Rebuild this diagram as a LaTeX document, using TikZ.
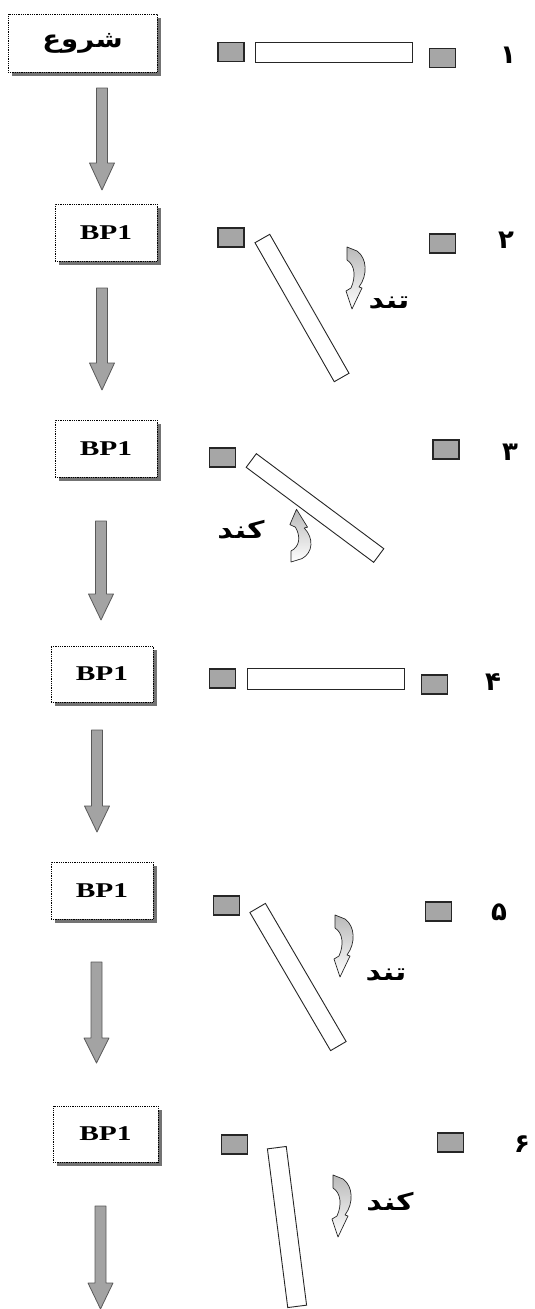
\documentclass[tikz,border=0pt]{standalone}
\usepackage{fontspec}
\usepackage{graphicx}
\setmainfont{Liberation Serif}
\newfontfamily\fa[Script=Arabic]{DejaVu Sans}
\TeXXeTstate=1
\usetikzlibrary{shadows}
\tikzset{
  stepbox/.style={draw=black, dash pattern=on 0.9pt off 0.9pt, line width=0.9pt, fill=white,
    inner sep=0pt, drop shadow={shadow xshift=4pt, shadow yshift=-4pt, fill=black!55, opacity=1}},
  fatext/.style={font=\fa\bfseries\fontsize{24}{28}\selectfont, inner sep=0pt},
  numtext/.style={font=\fa\bfseries\fontsize{26}{30}\selectfont, inner sep=0pt},
  pad/.style={draw=black!85, line width=1.1pt, fill=gray!70, minimum width=26pt, minimum height=19pt, inner sep=0pt},
  bar/.style={draw=black!85, line width=0.9pt, fill=white, inner sep=0pt},
  barrow/.style={draw=black!65, line width=0.8pt, fill=gray!72, line join=round},
  curv/.style={draw=black!85, line width=0.7pt, top color=gray!55, bottom color=white, line join=round}
}
\newcommand{\bptxt}{\scalebox{1.4}[1]{\bfseries\fontsize{21}{24}\selectfont BP1}}
\newcommand{\blockarrow}[4]{%
  \draw[barrow] (#1-5.5,#2) -- (#1+5.5,#2) -- (#1+5.5,#3) -- (#1+12.5,#3) -- (#1,#4)
    -- (#1-12.5,#3) -- (#1-5.5,#3) -- cycle;}
\newcommand{\curvedarrow}[2]{%
  \begin{scope}[shift={#1},#2]
    \draw[curv] (0,0) -- (10,4) .. controls (20,11) and (21,28) .. (12,40) -- (15,41) -- (5,62)
      -- (-1,44) -- (4,41) .. controls (9,30) and (8,18) .. (0,13) -- cycle;
  \end{scope}}
\begin{document}
\begin{tikzpicture}[x=1pt,y=-1pt]
\useasboundingbox (0,0) rectangle (535,1309);

% flow boxes
\node[stepbox, minimum width=149pt, minimum height=58pt] (b0) at (82.5,43)
  {\scalebox{1.15}[1]{\fa\bfseries\fontsize{24}{28}\selectfont\beginR شروع\endR}};
\node[stepbox, minimum width=102pt, minimum height=57pt] (b1) at (106,232.5) {\bptxt};
\node[stepbox, minimum width=102pt, minimum height=57pt] (b2) at (106,448.5) {\bptxt};
\node[stepbox, minimum width=102pt, minimum height=56pt] (b3) at (102,674) {\bptxt};
\node[stepbox, minimum width=102pt, minimum height=57pt] (b4) at (102,890.5) {\bptxt};
\node[stepbox, minimum width=105pt, minimum height=56pt] (b5) at (105.5,1134) {\bptxt};

% block arrows
\blockarrow{102}{88}{163}{190}
\blockarrow{102}{288}{363}{390}
\blockarrow{101}{521}{594}{620}
\blockarrow{97}{730}{806}{832}
\blockarrow{96.5}{962}{1038}{1063}
\blockarrow{100.5}{1206}{1283}{1309}

% row 1
\node[pad] (l1) at (231,52) {};
\node[bar, minimum width=157pt, minimum height=20pt] (r1) at (333.5,52) {};
\node[pad] (p1) at (442.5,58) {};
\node[numtext] (n1) at (508,55) {۱};

% row 2
\node[pad] (l2) at (231,237.5) {};
\node[pad] (p2) at (442.5,243.5) {};
\node[bar, minimum width=160pt, minimum height=17pt, rotate=-60.3] (r2) at (302,308) {};
\node[numtext] (n2) at (506,240) {۲};
\curvedarrow{(347,247)}{}
\node[fatext] (t2) at (389,303) {\scalebox{1.25}[1]{\beginR تند\endR}};

% row 3
\node[pad] (l3) at (222.5,457.5) {};
\node[pad] (p3) at (446,449.5) {};
\node[bar, minimum width=159pt, minimum height=17pt, rotate=-36.7] (r3) at (315,508) {};
\node[numtext] (n3) at (510,452) {۳};
\curvedarrow{(291,562)}{xscale=1.1,yscale=-0.85}
\node[fatext] (t3) at (241,530) {\scalebox{1.25}[1]{\beginR کند\endR}};

% row 4
\node[pad] (l4) at (222.5,678.5) {};
\node[bar, minimum width=157pt, minimum height=21pt] (r4) at (325.5,678.5) {};
\node[pad] (p4) at (434.5,684.5) {};
\node[numtext] (n4) at (493,682) {۴};

% row 5
\node[pad] (l5) at (226.5,905.5) {};
\node[pad] (p5) at (438.5,911.5) {};
\node[bar, minimum width=160pt, minimum height=18pt, rotate=-59.7] (r5) at (298,977) {};
\node[numtext] (n5) at (499,912) {۵};
\curvedarrow{(335,915)}{}
\node[fatext] (t5) at (386,975) {\scalebox{1.25}[1]{\beginR تند\endR}};

% row 6
\node[pad] (l6) at (234.5,1144.5) {};
\node[pad] (p6) at (450.5,1142.5) {};
\node[bar, minimum width=160pt, minimum height=19pt, rotate=-82.7] (r6) at (287,1227) {};
\node[numtext] (n6) at (522,1144) {۶};
\curvedarrow{(333,1175)}{}
\node[fatext] (t6) at (390,1202) {\scalebox{1.25}[1]{\beginR کند\endR}};
\end{tikzpicture}
\end{document}
